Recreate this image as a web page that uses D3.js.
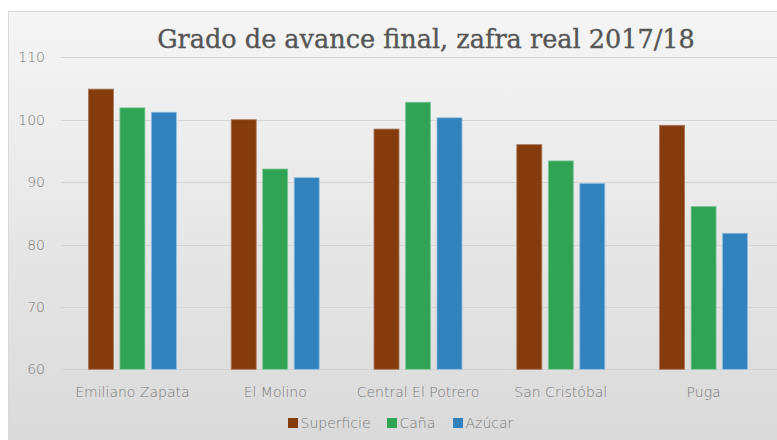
<!DOCTYPE html>
<html><head><meta charset="utf-8">
<script src="https://cdn.jsdelivr.net/npm/d3@7"></script>
<style>body{margin:0;background:#fff;} svg{display:block;}</style>
</head><body>
<svg id="c" width="777" height="440"></svg>
<script>
const categories = ["Emiliano Zapata", "El Molino", "Central El Potrero", "San Cristóbal", "Puga"];
const seriesNames = ["Superficie", "Caña", "Azúcar"];
const superficie = [104.9, 100.0, 98.5, 96.0, 99.1];
const cana = [101.9, 92.1, 102.8, 93.4, 86.1];
const azucar = [101.2, 90.7, 100.3, 89.8, 81.8];
const yTicks = [60, 70, 80, 90, 100, 110];
const colors = ["#843c0c", "#30a354", "#3182bd"];
const strokes = ["#a9775a", "#7fc99a", "#8fbde0"];

const series = [superficie, cana, azucar];
const svg = d3.select("#c");
const defs = svg.append("defs");
const grad = defs.append("linearGradient").attr("id","bg").attr("x1",0).attr("y1",0).attr("x2",0).attr("y2",1);
grad.append("stop").attr("offset","0%").attr("stop-color","#f5f5f5");
grad.append("stop").attr("offset","100%").attr("stop-color","#d9d9d9");

svg.append("rect").attr("x",8.5).attr("y",11.5).attr("width",780).attr("height",440)
  .attr("fill","url(#bg)").attr("stroke","#d9d9d9");

const x0 = d3.scaleBand().domain(categories).range([61, 775]);
const y = d3.scaleLinear().domain([60, 110]).range([369.3, 57.3]);
const groupW = 88;
const x1 = d3.scaleBand().domain(seriesNames).range([0, groupW]).paddingInner(0.206);

const sans = "'DejaVu Sans', sans-serif";

// gridlines
svg.append("g").selectAll("line").data(yTicks).join("line")
  .attr("x1", 61).attr("x2", 777)
  .attr("y1", d => Math.round(y(d)) + 0.5).attr("y2", d => Math.round(y(d)) + 0.5)
  .attr("stroke", "#d4d4d4").attr("stroke-width", 1);

// y labels
svg.append("g").selectAll("text").data(yTicks).join("text")
  .attr("x", 45).attr("y", d => y(d) + 5)
  .attr("text-anchor", "end").attr("font-family", sans).attr("font-weight", 200)
  .attr("font-size", 14).attr("fill", "#7a7a7a").text(d => d);

// bars
const groupOffset = (x0.bandwidth() - groupW) / 2;
categories.forEach((c, i) => {
  series.forEach((s, j) => {
    svg.append("rect")
      .attr("x", x0(c) + groupOffset + x1(seriesNames[j]))
      .attr("y", y(s[i]))
      .attr("width", x1.bandwidth())
      .attr("height", y(60) - y(s[i]))
      .attr("fill", colors[j]).attr("stroke", strokes[j]).attr("stroke-width", 0.8);
  });
});

// category labels
svg.append("g").selectAll("text").data(categories).join("text")
  .attr("x", d => x0(d) + x0.bandwidth() / 2).attr("y", 396.5)
  .attr("text-anchor", "middle").attr("font-family", sans).attr("font-weight", 200)
  .attr("font-size", 14).attr("fill", "#7a7a7a").text(d => d);

// title
const title = svg.append("text").attr("x", 426).attr("y", 48).attr("text-anchor", "middle")
  .attr("font-family", "'DejaVu Serif', 'Liberation Serif', serif").attr("font-size", 24)
  .attr("fill", "#555555").attr("stroke", "#555555").attr("stroke-width", 0.35)
  .text("Grado de avance final, zafra real 2017/18");
const tw = title.node().getComputedTextLength();
title.attr("font-size", 24 * 538 / tw);

// legend
const legendX = [288, 387, 453];
const lg = svg.append("g");
seriesNames.forEach((n, j) => {
  lg.append("rect").attr("x", legendX[j]).attr("y", 418).attr("width", 10).attr("height", 10).attr("fill", colors[j]);
  lg.append("text").attr("x", legendX[j] + 12.5).attr("y", 428).attr("font-family", sans).attr("font-weight", 200)
    .attr("font-size", 14).attr("fill", "#7a7a7a").text(n);
});
</script>
</body></html>
